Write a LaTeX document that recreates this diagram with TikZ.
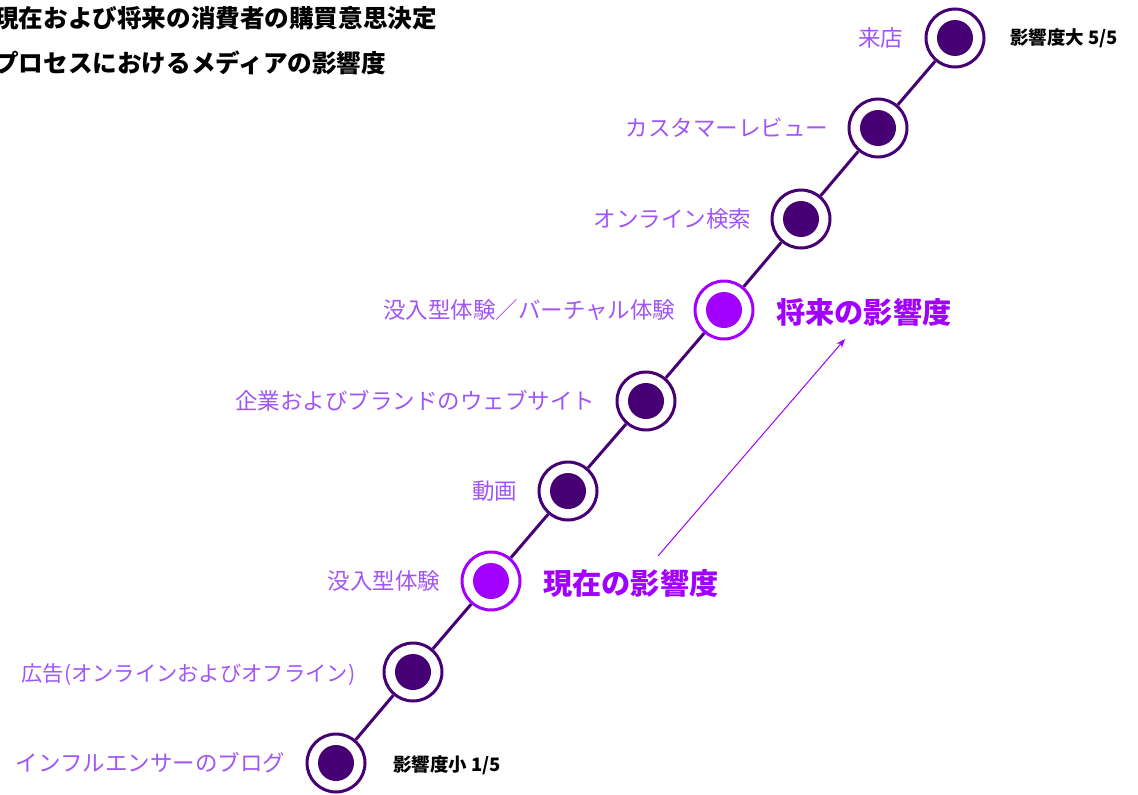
\documentclass[tikz,border=0pt]{standalone}
\usepackage{fontspec}
\setmainfont{Noto Sans CJK JP}
\usetikzlibrary{arrows.meta}
\definecolor{dkp}{HTML}{460073}
\definecolor{hlp}{HTML}{A100FF}
\definecolor{lbp}{HTML}{A055F5}
\tikzset{
  dot/.style={circle, draw=dkp, line width=3pt, fill=white, minimum size=58pt, inner sep=0pt,
    path picture={\fill[dkp] (path picture bounding box.center) circle (18pt);}},
  hdot/.style={circle, draw=hlp, line width=3pt, fill=white, minimum size=58pt, inner sep=0pt,
    path picture={\fill[hlp] (path picture bounding box.center) circle (18pt);}},
  lbl/.style={anchor=east, inner sep=0pt, text=lbp, font=\fontsize{22.5}{25}\selectfont},
  ttl/.style={anchor=west, inner sep=0pt, text=black, font=\bfseries\fontsize{24.6}{28}\selectfont},
  ends/.style={anchor=west, inner sep=0pt, text=black, font=\bfseries\fontsize{18.5}{21}\selectfont},
  big/.style={anchor=west, inner sep=0pt, text=hlp, font=\bfseries\fontsize{29.2}{32}\selectfont},
  conn/.style={draw=dkp, line width=3pt},
}
\begin{document}
\begin{tikzpicture}[x=1pt,y=-1pt]
\useasboundingbox (0,0) rectangle (1138,795);
\node[ttl] (t1) at (-6,18) {現在および将来の消費者の購買意思決定};
\node[ttl] (t2) at (-6,63) {プロセスにおけるメディアの影響度};

\node[dot]  (n1) at (955,38) {};
\node[dot]  (n2) at (878,128) {};
\node[dot]  (n3) at (801,219) {};
\node[hdot] (n4) at (724,310) {};
\node[dot]  (n5) at (646,401) {};
\node[dot]  (n6) at (568,491) {};
\node[hdot] (n7) at (491,581) {};
\node[dot]  (n8) at (413,672) {};
\node[dot]  (n9) at (336,763) {};

\draw[conn] (n1) -- (n2);
\draw[conn] (n2) -- (n3);
\draw[conn] (n3) -- (n4);
\draw[conn] (n4) -- (n5);
\draw[conn] (n5) -- (n6);
\draw[conn] (n6) -- (n7);
\draw[conn] (n7) -- (n8);
\draw[conn] (n8) -- (n9);

\node[lbl] (l1) at ([xshift=-21pt]n1.west) {来店};
\node[lbl] (l2) at ([xshift=-19pt]n2.west) {カスタマーレビュー};
\node[lbl] (l3) at ([xshift=-19pt]n3.west) {オンライン検索};
\node[lbl] (l4) at ([xshift=-18pt]n4.west) {没入型体験／バーチャル体験};
\node[lbl] (l5) at ([xshift=-20pt]n5.west) {企業およびブランドのウェブサイト};
\node[lbl] (l6) at ([xshift=-20pt]n6.west) {動画};
\node[lbl] (l7) at ([xshift=-20pt]n7.west) {没入型体験};
\node[lbl, font=\fontsize{21.3}{24}\selectfont] (l8) at ([xshift=-27pt,yshift=-3pt]n8.west) {広告(オンラインおよびオフライン)};
\node[lbl] (l9) at ([xshift=-20pt]n9.west) {インフルエンサーのブログ};

\node[ends] (hi) at (1010,38) {影響度大 5/5};
\node[ends] (lo) at (393,765) {影響度小 1/5};

\node[big] (fut) at (776,312) {将来の影響度};
\node[big] (cur) at (543,583) {現在の影響度};

\coordinate (as) at (658,556);
\coordinate (ae) at (845,339);
\draw[hlp, line width=1pt, -{Stealth[length=9pt,width=7pt]}] (as) -- (ae);
\end{tikzpicture}
\end{document}
